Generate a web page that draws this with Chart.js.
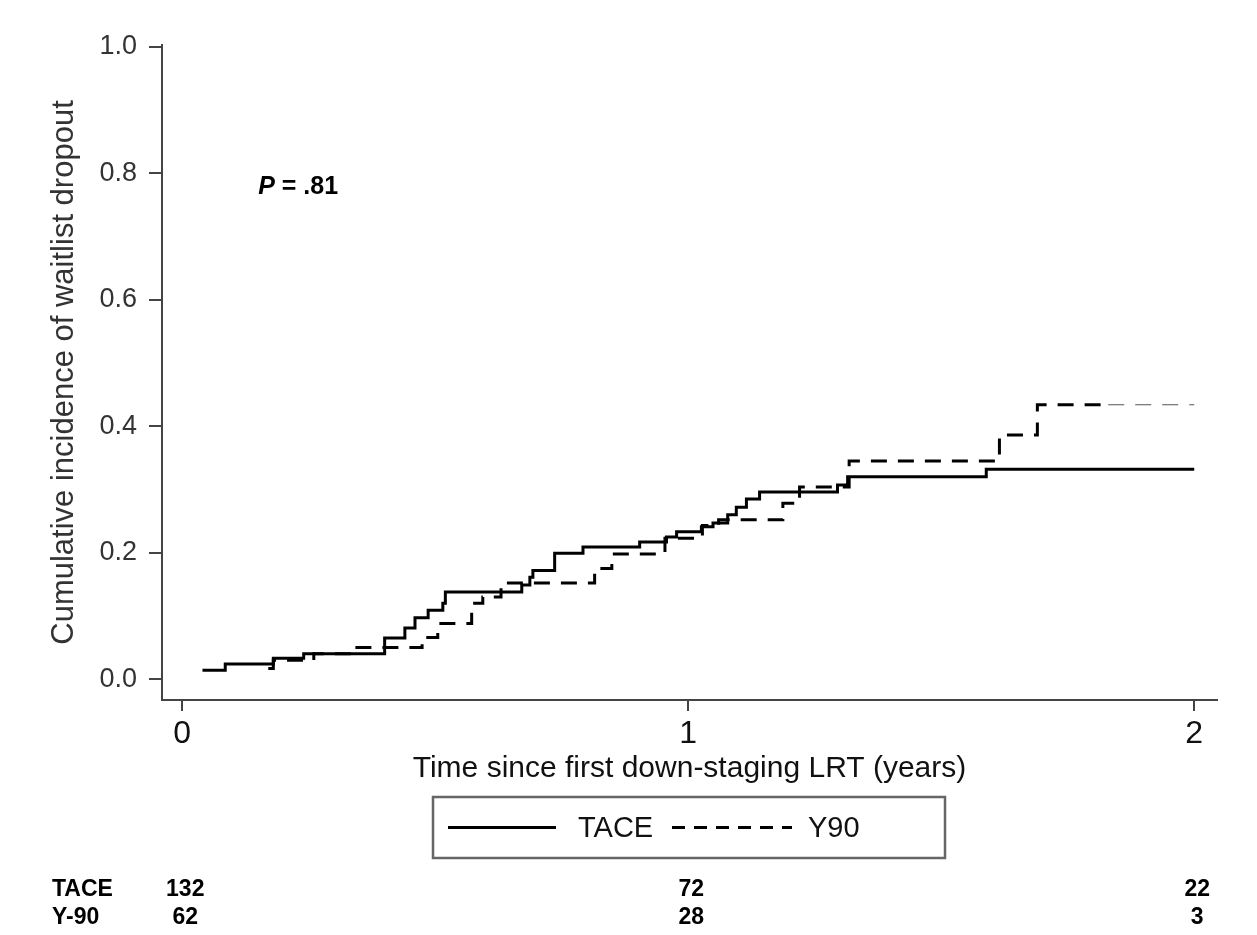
<!DOCTYPE html>
<html>
<head>
<meta charset="utf-8">
<script src="https://cdn.jsdelivr.net/npm/chart.js@4.4.1/dist/chart.umd.min.js"></script>
<style>
  html, body { margin: 0; padding: 0; background: #fff; }
  #wrap { width: 1257px; height: 935px; position: relative; }
</style>
</head>
<body>
<div id="wrap"><canvas id="kmChart"></canvas></div>
<script>
// TACE cumulative incidence (step function, value starts at each time)
const taceTime = [0.04, 0.085, 0.18, 0.24, 0.40, 0.44, 0.46, 0.486, 0.515, 0.52,
  0.671, 0.687, 0.693, 0.736, 0.792, 0.904, 0.957, 0.977, 1.026, 1.049,
  1.078, 1.095, 1.115, 1.141, 1.295, 1.315, 1.589, 2.0];
const taceInc = [0.014, 0.024, 0.033, 0.040, 0.065, 0.081, 0.097, 0.109, 0.120, 0.138,
  0.149, 0.161, 0.172, 0.199, 0.209, 0.217, 0.225, 0.233, 0.241, 0.247,
  0.260, 0.272, 0.285, 0.296, 0.307, 0.320, 0.332, 0.332];

// Y90 cumulative incidence
const y90Time = [0.17, 0.18, 0.26, 0.33, 0.474, 0.505, 0.572, 0.594, 0.63, 0.815,
  0.849, 0.954, 1.028, 1.06, 1.187, 1.22, 1.318, 1.615, 1.69, 1.83, 2.0];
const y90Inc = [0.017, 0.030, 0.040, 0.050, 0.066, 0.088, 0.120, 0.130, 0.152, 0.175,
  0.198, 0.223, 0.243, 0.252, 0.278, 0.304, 0.345, 0.386, 0.434, 0.434, 0.434];

// axis ticks
const xTicks = [0, 1, 2];
const yTicks = [0, 0.2, 0.4, 0.6, 0.8, 1.0];

// number at risk
const riskTimes = [0, 1, 2];
const riskTACE = [132, 72, 22];
const riskY90 = [62, 28, 3];
const riskLabels = ["TACE", "Y-90"];

const pLabel = { x: 0.15, y: 0.778 };

const toPoints = (xs, ys) => xs.map((x, i) => ({ x: x, y: ys[i] }));

const sans = "'Liberation Sans', Arial, sans-serif";

const extras = {
  id: "extras",
  afterDraw(chart) {
    const ctx = chart.ctx;
    const xs = chart.scales.x;
    const ys = chart.scales.y;
    ctx.save();

    // P value
    ctx.fillStyle = "#000";
    ctx.textBaseline = "middle";
    ctx.textAlign = "left";
    let px = xs.getPixelForValue(pLabel.x);
    const py = ys.getPixelForValue(pLabel.y);
    ctx.font = "italic bold 25px " + sans;
    ctx.fillText("P", px, py);
    px += ctx.measureText("P").width;
    ctx.font = "bold 25px " + sans;
    ctx.fillText(" = .81", px, py);

    // legend box
    const bx = 433, by = 797, bw = 512, bh = 61;
    ctx.strokeStyle = "#666";
    ctx.lineWidth = 2.5;
    ctx.strokeRect(bx, by, bw, bh);
    const ly = by + bh / 2;
    const ds = chart.data.datasets;
    const items = [
      { x0: 448, x1: 556, tx: 578, ds: ds[0], dash: [] },
      { x0: 672, x1: 792, tx: 808, ds: ds[1], dash: [13, 9] }
    ];
    items.forEach(it => {
      ctx.beginPath();
      ctx.setLineDash(it.dash);
      ctx.lineWidth = 3;
      ctx.strokeStyle = "#000";
      ctx.moveTo(it.x0, ly);
      ctx.lineTo(it.x1, ly);
      ctx.stroke();
      ctx.setLineDash([]);
      ctx.fillStyle = "#111";
      ctx.font = "29px " + sans;
      ctx.textAlign = "left";
      ctx.fillText(it.ds.label, it.tx, ly + 1);
    });

    // number at risk table
    ctx.fillStyle = "#000";
    ctx.font = "bold 23px " + sans;
    const rows = [riskTACE, riskY90];
    const rowY = [890, 918];
    rows.forEach((row, r) => {
      ctx.textAlign = "left";
      ctx.fillText(riskLabels[r], 52, rowY[r]);
      ctx.textAlign = "center";
      row.forEach((n, i) => {
        ctx.fillText(String(n), xs.getPixelForValue(riskTimes[i]) + 3, rowY[r]);
      });
    });
    ctx.restore();
  }
};

new Chart(document.getElementById("kmChart"), {
  type: "line",
  data: {
    datasets: [
      {
        label: "TACE",
        data: toPoints(taceTime, taceInc),
        borderColor: "#000",
        borderWidth: 3,
        stepped: "before",
        pointRadius: 0,
        fill: false
      },
      {
        label: "Y90",
        data: toPoints(y90Time, y90Inc),
        borderColor: "#000",
        borderWidth: 3,
        borderDash: [16, 11],
        stepped: "before",
        pointRadius: 0,
        fill: false,
        segment: {
          borderWidth: c => (c.p0.parsed.x >= 1.8 ? 1.2 : 3),
          borderColor: c => (c.p0.parsed.x >= 1.8 ? "#555" : "#000")
        }
      }
    ]
  },
  options: {
    responsive: true,
    maintainAspectRatio: false,
    animation: false,
    layout: { padding: { left: 0, right: 40, top: 45, bottom: 135 } },
    plugins: {
      legend: { display: false },
      tooltip: { enabled: false }
    },
    scales: {
      x: {
        type: "linear",
        min: -0.04,
        max: 2.045,
        afterBuildTicks: s => { s.ticks = xTicks.map(v => ({ value: v })); },
        afterFit: s => { s.height = 100; },
        border: { display: true, color: "#444", width: 2 },
        grid: { drawOnChartArea: false, drawTicks: true, tickLength: 11, color: "#444", lineWidth: 2 },
        ticks: {
          color: "#111",
          padding: 4,
          font: { family: sans, size: 32 },
          callback: v => String(v)
        },
        title: {
          display: true,
          text: "Time since first down-staging LRT (years)",
          color: "#111",
          font: { family: sans, size: 30 },
          padding: { top: 0, bottom: 13 }
        }
      },
      y: {
        type: "linear",
        min: -0.033,
        max: 1.003,
        afterBuildTicks: s => { s.ticks = yTicks.map(v => ({ value: v })); },
        afterFit: s => { s.width = 162; },
        border: { display: true, color: "#444", width: 2 },
        grid: { drawOnChartArea: false, drawTicks: true, tickLength: 13, color: "#444", lineWidth: 2 },
        ticks: {
          color: "#333",
          padding: 12,
          font: { family: sans, size: 27 },
          callback: v => v.toFixed(1)
        },
        title: {
          display: true,
          text: "Cumulative incidence of waitlist dropout",
          color: "#333",
          font: { family: sans, size: 31 },
          padding: { top: 46, bottom: 0 }
        }
      }
    }
  },
  plugins: [extras]
});
</script>
</body>
</html>
